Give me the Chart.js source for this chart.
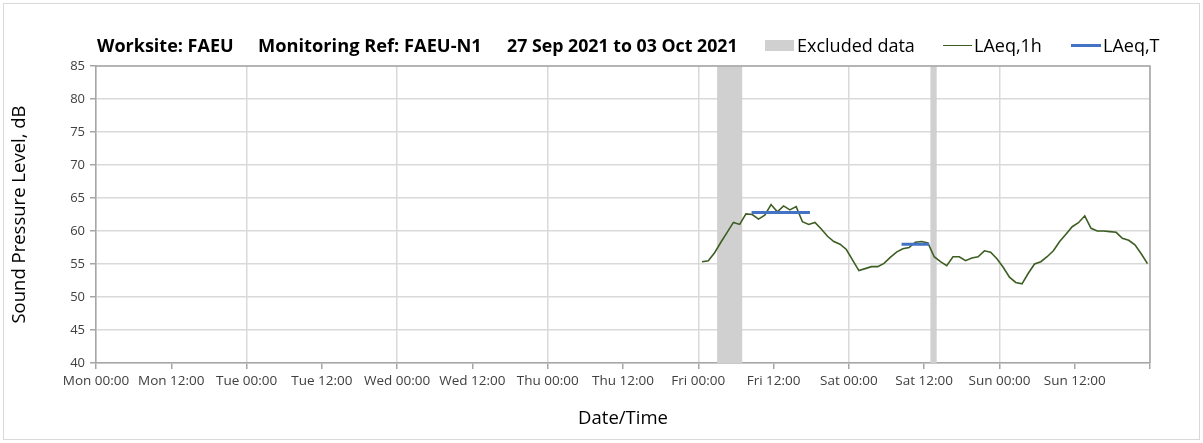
<!DOCTYPE html>
<html>
<head>
<meta charset="utf-8">
<script src="https://cdn.jsdelivr.net/npm/chart.js@4/dist/chart.umd.min.js"></script>
<style>
html,body{margin:0;padding:0;background:#fff;}
#wrap{position:relative;width:1203px;height:443px;overflow:hidden;font-family:"Open Sans",sans-serif;color:#000;}
#frame{position:absolute;left:3px;top:3px;width:1197px;height:437px;border:1px solid #d9d9d9;box-sizing:border-box;}
#c{position:absolute;left:0;top:0;}
.hdr{position:absolute;top:34px;font-weight:bold;font-size:15px;white-space:nowrap;line-height:22px;color:#000;}
.lgt{position:absolute;top:33px;font-size:17px;white-space:nowrap;line-height:24px;color:#000;}
.sw{position:absolute;}
</style>
</head>
<body>
<div id="wrap">
  <div id="frame"></div>
  <canvas id="c" width="1203" height="443"></canvas>
  <div id="header"></div>
  <div id="legend"></div>
</div>
<script>
// ---------- header text ----------
const headerParts = ['Worksite: FAEU', 'Monitoring Ref: FAEU-N1', '27 Sep 2021 to 03 Oct 2021'];

// ---------- x axis tick labels (every 12 h from Mon 00:00) ----------
const xTickLabels = ['Mon 00:00','Mon 12:00','Tue 00:00','Tue 12:00','Wed 00:00','Wed 12:00',
  'Thu 00:00','Thu 12:00','Fri 00:00','Fri 12:00','Sat 00:00','Sat 12:00','Sun 00:00','Sun 12:00',''];

// ---------- LAeq,1h hourly values (first reading, hours after Mon 00:00) ----------
const hourStart = 96.6;
const laeq1h = [
  55.35,55.5,56.7,58.3,59.8,61.3,61.0,62.6,62.5,61.8,62.4,64.0,
  62.9,63.8,63.2,63.7,61.4,61.0,61.3,60.3,59.2,58.4,58.0,57.2,
  55.6,54.0,54.3,54.6,54.6,55.1,56.0,56.8,57.3,57.5,58.3,58.4,
  58.2,56.1,55.35,54.75,56.1,56.1,55.5,55.9,56.1,57.0,56.8,55.8,
  54.5,53.0,52.2,52.0,53.6,55.0,55.35,56.1,57.0,58.4,59.5,60.65,
  61.25,62.3,60.4,60.0,60.0,59.9,59.8,58.9,58.6,57.9,56.55,55.05
];

// ---------- LAeq,T periods (hours after Mon 00:00) ----------
const laeqTStart = [104.5, 128.4];
const laeqTEnd   = [113.8, 132.8];
const laeqTValue = [62.8, 58.0];

// ---------- excluded data periods (hours after Mon 00:00) ----------
const excludedStart = [99, 133];
const excludedEnd   = [103, 134];

// ---------- colours ----------
const excludedColor = '#d0d0d0';
const lineColor = '#3d5e22';
const tColor = '#4472c4';

const lineData = laeq1h.map((v, i) => ({x: hourStart + i, y: v}));
const tData = [];
laeqTValue.forEach((v, i) => {
  tData.push({x: laeqTStart[i], y: v}, {x: laeqTEnd[i], y: v}, {x: laeqTEnd[i] + 0.01, y: null});
});

const bandsPlugin = {
  id: 'bands',
  beforeDatasetsDraw(chart) {
    const {ctx, chartArea: a, scales: {x}} = chart;
    ctx.save();
    ctx.fillStyle = excludedColor;
    excludedStart.forEach((s, i) => {
      const x0 = x.getPixelForValue(s), x1 = x.getPixelForValue(excludedEnd[i]);
      ctx.fillRect(x0, a.top, x1 - x0, a.bottom - a.top);
    });
    ctx.strokeStyle = '#a6a6a6';
    ctx.lineWidth = 1.5;
    ctx.beginPath();
    ctx.moveTo(a.left, a.top); ctx.lineTo(a.right, a.top); ctx.lineTo(a.right, a.bottom);
    ctx.stroke();
    ctx.restore();
  }
};

const chart = new Chart(document.getElementById('c'), {
  type: 'line',
  data: {
    datasets: [
      {label: 'LAeq,1h', data: lineData, borderColor: lineColor, borderWidth: 1.6, pointRadius: 0, tension: 0, order: 2},
      {label: 'LAeq,T', data: tData, borderColor: tColor, borderWidth: 3, pointRadius: 0, tension: 0, spanGaps: false, order: 1}
    ]
  },
  options: {
    responsive: false,
    animation: false,
    events: [],
    layout: {padding: {left: 0, top: 66, right: 53, bottom: 0}},
    plugins: {legend: {display: false}, title: {display: false}, tooltip: {enabled: false}},
    scales: {
      x: {
        type: 'linear', min: 0, max: 168,
        afterFit(s) { s.height = 80; },
        afterBuildTicks(s) { s.ticks = xTickLabels.map((t, i) => ({value: i * 12})); },
        ticks: {
          autoSkip: false, maxRotation: 0, minRotation: 0, padding: 4,
          color: '#404040', font: {family: 'Open Sans', size: 13.5},
          callback: (v, i) => xTickLabels[i]
        },
        grid: {
          color: c => (c.tick && c.tick.value % 24 === 0) ? '#d9d9d9' : 'rgba(0,0,0,0)',
          lineWidth: 1.5, tickColor: '#a6a6a6', tickLength: 6, drawTicks: true
        },
        border: {display: true, color: '#a6a6a6', width: 1.5},
        title: {display: true, text: 'Date/Time', color: '#000', font: {family: 'Open Sans', size: 18.5}, padding: {top: 0, bottom: 13}}
      },
      y: {
        min: 40, max: 85,
        afterFit(s) { s.width = 96; },
        ticks: {stepSize: 5, color: '#404040', font: {family: 'Open Sans', size: 13}, padding: 5},
        grid: {color: '#d9d9d9', lineWidth: 1.5, tickColor: '#a6a6a6', tickLength: 6},
        border: {display: true, color: '#a6a6a6', width: 1.5},
        title: {display: true, text: 'Sound Pressure Level, dB', color: '#000', font: {family: 'Open Sans', size: 18.5}, padding: {top: 9, bottom: 0}}
      }
    }
  },
  plugins: [bandsPlugin]
});

function fitWidth(el, target, minFs, maxFs) {
  let fs = minFs;
  el.style.fontSize = fs + 'px';
  while (el.offsetWidth < target && fs < maxFs) { fs += 0.25; el.style.fontSize = fs + 'px'; }
}

// ---------- header (title) ----------
const hdrPos = [[97, 137], [258, 223], [507, 231]];
const header = document.getElementById('header');
headerParts.forEach((t, i) => {
  const d = document.createElement('div');
  d.className = 'hdr';
  d.textContent = t;
  d.style.left = hdrPos[i][0] + 'px';
  header.appendChild(d);
  fitWidth(d, hdrPos[i][1], 13, 19);
});

// ---------- legend built from datasets ----------
const legend = document.getElementById('legend');
const legendItems = [
  {text: 'Excluded data', kind: 'box', color: excludedColor, sw: [765, 29], tx: 797, tw: 118},
  {text: chart.data.datasets[0].label, kind: 'line', color: lineColor, w: 1.6, sw: [943, 29], tx: 974, tw: 70},
  {text: chart.data.datasets[1].label, kind: 'line', color: tColor, w: 3, sw: [1071, 30], tx: 1103, tw: 60}
];
legendItems.forEach(it => {
  const s = document.createElement('div');
  s.className = 'sw';
  s.style.left = it.sw[0] + 'px';
  s.style.width = it.sw[1] + 'px';
  s.style.background = it.color;
  if (it.kind === 'box') { s.style.top = '40px'; s.style.height = '11px'; }
  else { s.style.top = (45.5 - it.w / 2) + 'px'; s.style.height = it.w + 'px'; }
  legend.appendChild(s);
  const t = document.createElement('div');
  t.className = 'lgt';
  t.style.left = it.tx + 'px';
  t.textContent = it.text;
  legend.appendChild(t);
  fitWidth(t, it.tw, 14, 18);
});
</script>
</body>
</html>
